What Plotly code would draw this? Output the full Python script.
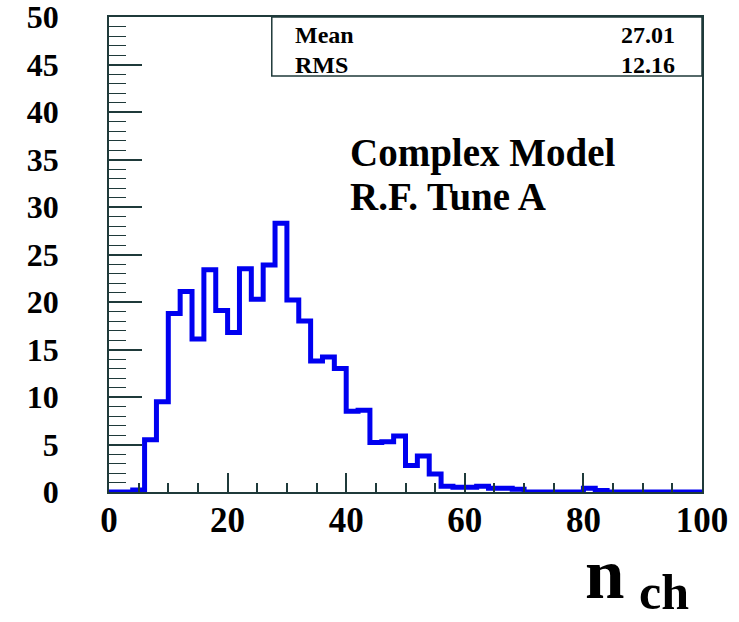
import numpy as np
import plotly.graph_objects as go

# ---- data ----
bin_width = 2
bin_edges = np.arange(0, 100 + bin_width, bin_width)
counts = [
    0.0, 0.0, 0.2, 5.5, 9.5, 18.8, 21.1, 16.1, 23.4, 19.1,
    16.8, 23.5, 20.3, 23.9, 28.3, 20.2, 18.0, 13.8, 14.2, 13.0,
    8.5, 8.6, 5.2, 5.3, 5.9, 2.8, 3.8, 1.9, 0.6, 0.5,
    0.5, 0.6, 0.4, 0.4, 0.3, 0.0, 0.0, 0.0, 0.0, 0.0,
    0.4, 0.15, 0.0, 0.0, 0.0, 0.0, 0.0, 0.0, 0.0, 0.0,
]
stats_labels = ["Mean", "RMS"]
stats_values = ["27.01", "12.16"]
model_lines = ["Complex Model", "R.F. Tune A"]
x_ticks = [0, 20, 40, 60, 80, 100]
y_ticks = [0, 5, 10, 15, 20, 25, 30, 35, 40, 45, 50]

FONT = "Liberation Serif"
AXC = "#1f3a3a"

step_x = list(bin_edges)
step_y = list(counts) + [counts[-1]]

fig = go.Figure()
fig.add_trace(go.Scatter(
    x=step_x, y=step_y, mode="lines", line=dict(shape="hv", color="#0000f0", width=5),
    showlegend=False, hoverinfo="skip",
))

fig.update_layout(
    width=739, height=622,
    margin=dict(l=109, r=37, t=17, b=130),
    paper_bgcolor="white", plot_bgcolor="white",
    xaxis=dict(
        range=[0, 100], tickvals=x_ticks, ticks="inside", ticklen=19, tickwidth=1.5,
        tickcolor=AXC, showline=True, linecolor=AXC, linewidth=1.5, mirror=True,
        showgrid=False, zeroline=False, ticklabelstandoff=-4, automargin=False,
        ticklabeloverflow="allow",
        tickfont=dict(family=FONT, size=35, color="black", weight="bold"),
        minor=dict(dtick=5, ticks="inside", ticklen=9, tickcolor=AXC, tickwidth=1.5, showgrid=False),
    ),
    yaxis=dict(
        range=[0, 50], tickvals=y_ticks, ticks="inside", ticklen=33, tickwidth=1.5,
        tickcolor=AXC, showline=True, linecolor=AXC, linewidth=1.5, mirror=True,
        showgrid=False, zeroline=False, ticklabelstandoff=42, automargin=False,
        ticklabeloverflow="allow",
        tickfont=dict(family=FONT, size=32, color="black", weight="bold"),
        minor=dict(dtick=1, ticks="inside", ticklen=17, tickcolor=AXC, tickwidth=1.2, showgrid=False),
    ),
)

# stats box
fig.add_shape(type="rect", xref="paper", yref="paper", x0=0.2745, x1=1.0, y0=0.876, y1=1.0,
              line=dict(color=AXC, width=1.5), fillcolor="rgba(0,0,0,0)")
for lab, val, yy in zip(stats_labels, stats_values, [0.962, 0.900]):
    fig.add_annotation(xref="paper", yref="paper", x=0.310, y=yy, text=lab, showarrow=False,
                       xanchor="left", yanchor="middle",
                       font=dict(family=FONT, size=24, color="black", weight="bold"))
    fig.add_annotation(xref="paper", yref="paper", x=0.958, y=yy, text=val, showarrow=False,
                       xanchor="right", yanchor="middle",
                       font=dict(family=FONT, size=24, color="black", weight="bold"))

for line, yy in zip(model_lines, [0.713, 0.623]):
    fig.add_annotation(xref="paper", yref="paper", x=0.403, y=yy, text=line, showarrow=False,
                       xanchor="left", yanchor="middle",
                       font=dict(family=FONT, size=39, color="black", weight="bold"))

# axis title n_ch
fig.add_annotation(xref="paper", yref="paper", x=(583 - 109) / 592.7, y=-0.172, text="n",
                   showarrow=False, xanchor="left", yanchor="middle",
                   font=dict(family=FONT, size=71, color="black", weight="bold"))
fig.add_annotation(xref="paper", yref="paper", x=(637 - 109) / 592.7, y=(492 - 621.5) / 475, text="ch",
                   showarrow=False, xanchor="left", yanchor="bottom",
                   font=dict(family=FONT, size=50, color="black", weight="bold"))

fig.write_html("out.html")
